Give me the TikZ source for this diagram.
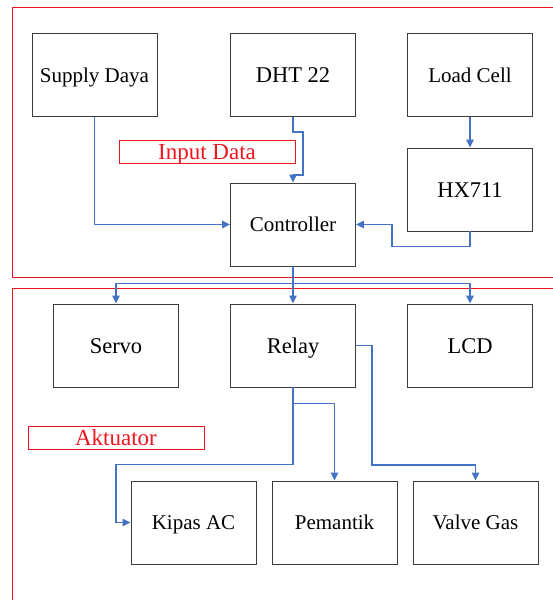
\documentclass[tikz,border=0pt]{standalone}
\usepackage{fontspec}
\setmainfont{Liberation Serif}
\usetikzlibrary{arrows.meta,positioning,calc}
\definecolor{linkblue}{RGB}{68,114,196}
\definecolor{framered}{RGB}{240,20,30}
\definecolor{boxgray}{RGB}{60,60,60}

\tikzset{
  block/.style={draw=boxgray,line width=0.9pt,minimum width=125pt,minimum height=83pt,inner sep=0pt,text depth=0pt},
  smalltxt/.style={font=\fontsize{21}{24}\selectfont,text height=14pt},
  bigtxt/.style={font=\fontsize{22.5}{26}\selectfont,text height=15pt},
  tag/.style={draw=framered,line width=0.9pt,text=framered,minimum width=176pt,minimum height=23pt,inner sep=0pt,text height=15pt,text depth=0pt,font=\fontsize{23}{26}\selectfont},
  link/.style={draw=linkblue,line width=1.3pt,-{Triangle[length=8pt,width=7.5pt]}},
}

\begin{document}
\begin{tikzpicture}[x=1pt,y=-1pt]
    \useasboundingbox (0,0) rectangle (553,600);
    % group frames
    \draw[framered,line width=0.9pt] (12,7) rectangle (570,277);
    \draw[framered,line width=0.9pt] (12,288) rectangle (570,620);
    % input side
    \node[block,smalltxt] (supply) at (94.5,75){Supply Daya};
    \node[block,bigtxt] (dht) at (293,75){DHT 22};
    \node[block,smalltxt] (load) at (470,75){Load Cell};
    \node[block,bigtxt] (hx) at (470,189.5){HX711};
    \node[block,smalltxt] (ctrl) at (293,224.5){Controller};
    \node[tag] (inlabel) at (207,151.5){Input Data};
    % actuator side
    \node[block,bigtxt] (servo) at (116,345.5){Servo};
    \node[block,bigtxt] (relay) at (293,345.5){Relay};
    \node[block,bigtxt] (lcd) at (470,345.5){LCD};
    \node[tag] (outlabel) at (116,438){Aktuator};
    \node[block,smalltxt] (kipas) at (193.5,522.5){Kipas AC};
    \node[block,smalltxt] (pem) at (334.5,522.5){Pemantik};
    \node[block,smalltxt] (valve) at (475.5,522.5){Valve Gas};
    % sensor links
    \draw[link] (supply.south) |- (ctrl.west);
    \draw[link] (dht.south) -- ++(0,15) -- ++(10,0) -- ++(0,43) -- ++(-10,0) -- (ctrl.north);
    \draw[link] (load.south) -- (hx.north);
    \draw[link] (hx.south) -- ++(0,15) -- ++(-78,0) |- (ctrl.east);
    % output bus
    \draw[linkblue,line width=1.3pt] (ctrl.south) -- ++(0,17) coordinate (bus);
    \draw[link] (bus) -| (servo.north);
    \draw[link] (bus) -- (relay.north);
    \draw[link] (bus) -| (lcd.north);
    % relay links
    \draw[link] (relay.south) -- ++(0,77) -- ++(-177,0) |- (kipas.west);
    \draw[link] (relay.south) ++(0,16) -| (pem.north);
    \draw[link] (relay.east) -- ++(16,0) -- ++(0,119.5) -| (valve.north);
  \end{tikzpicture}
\end{document}
